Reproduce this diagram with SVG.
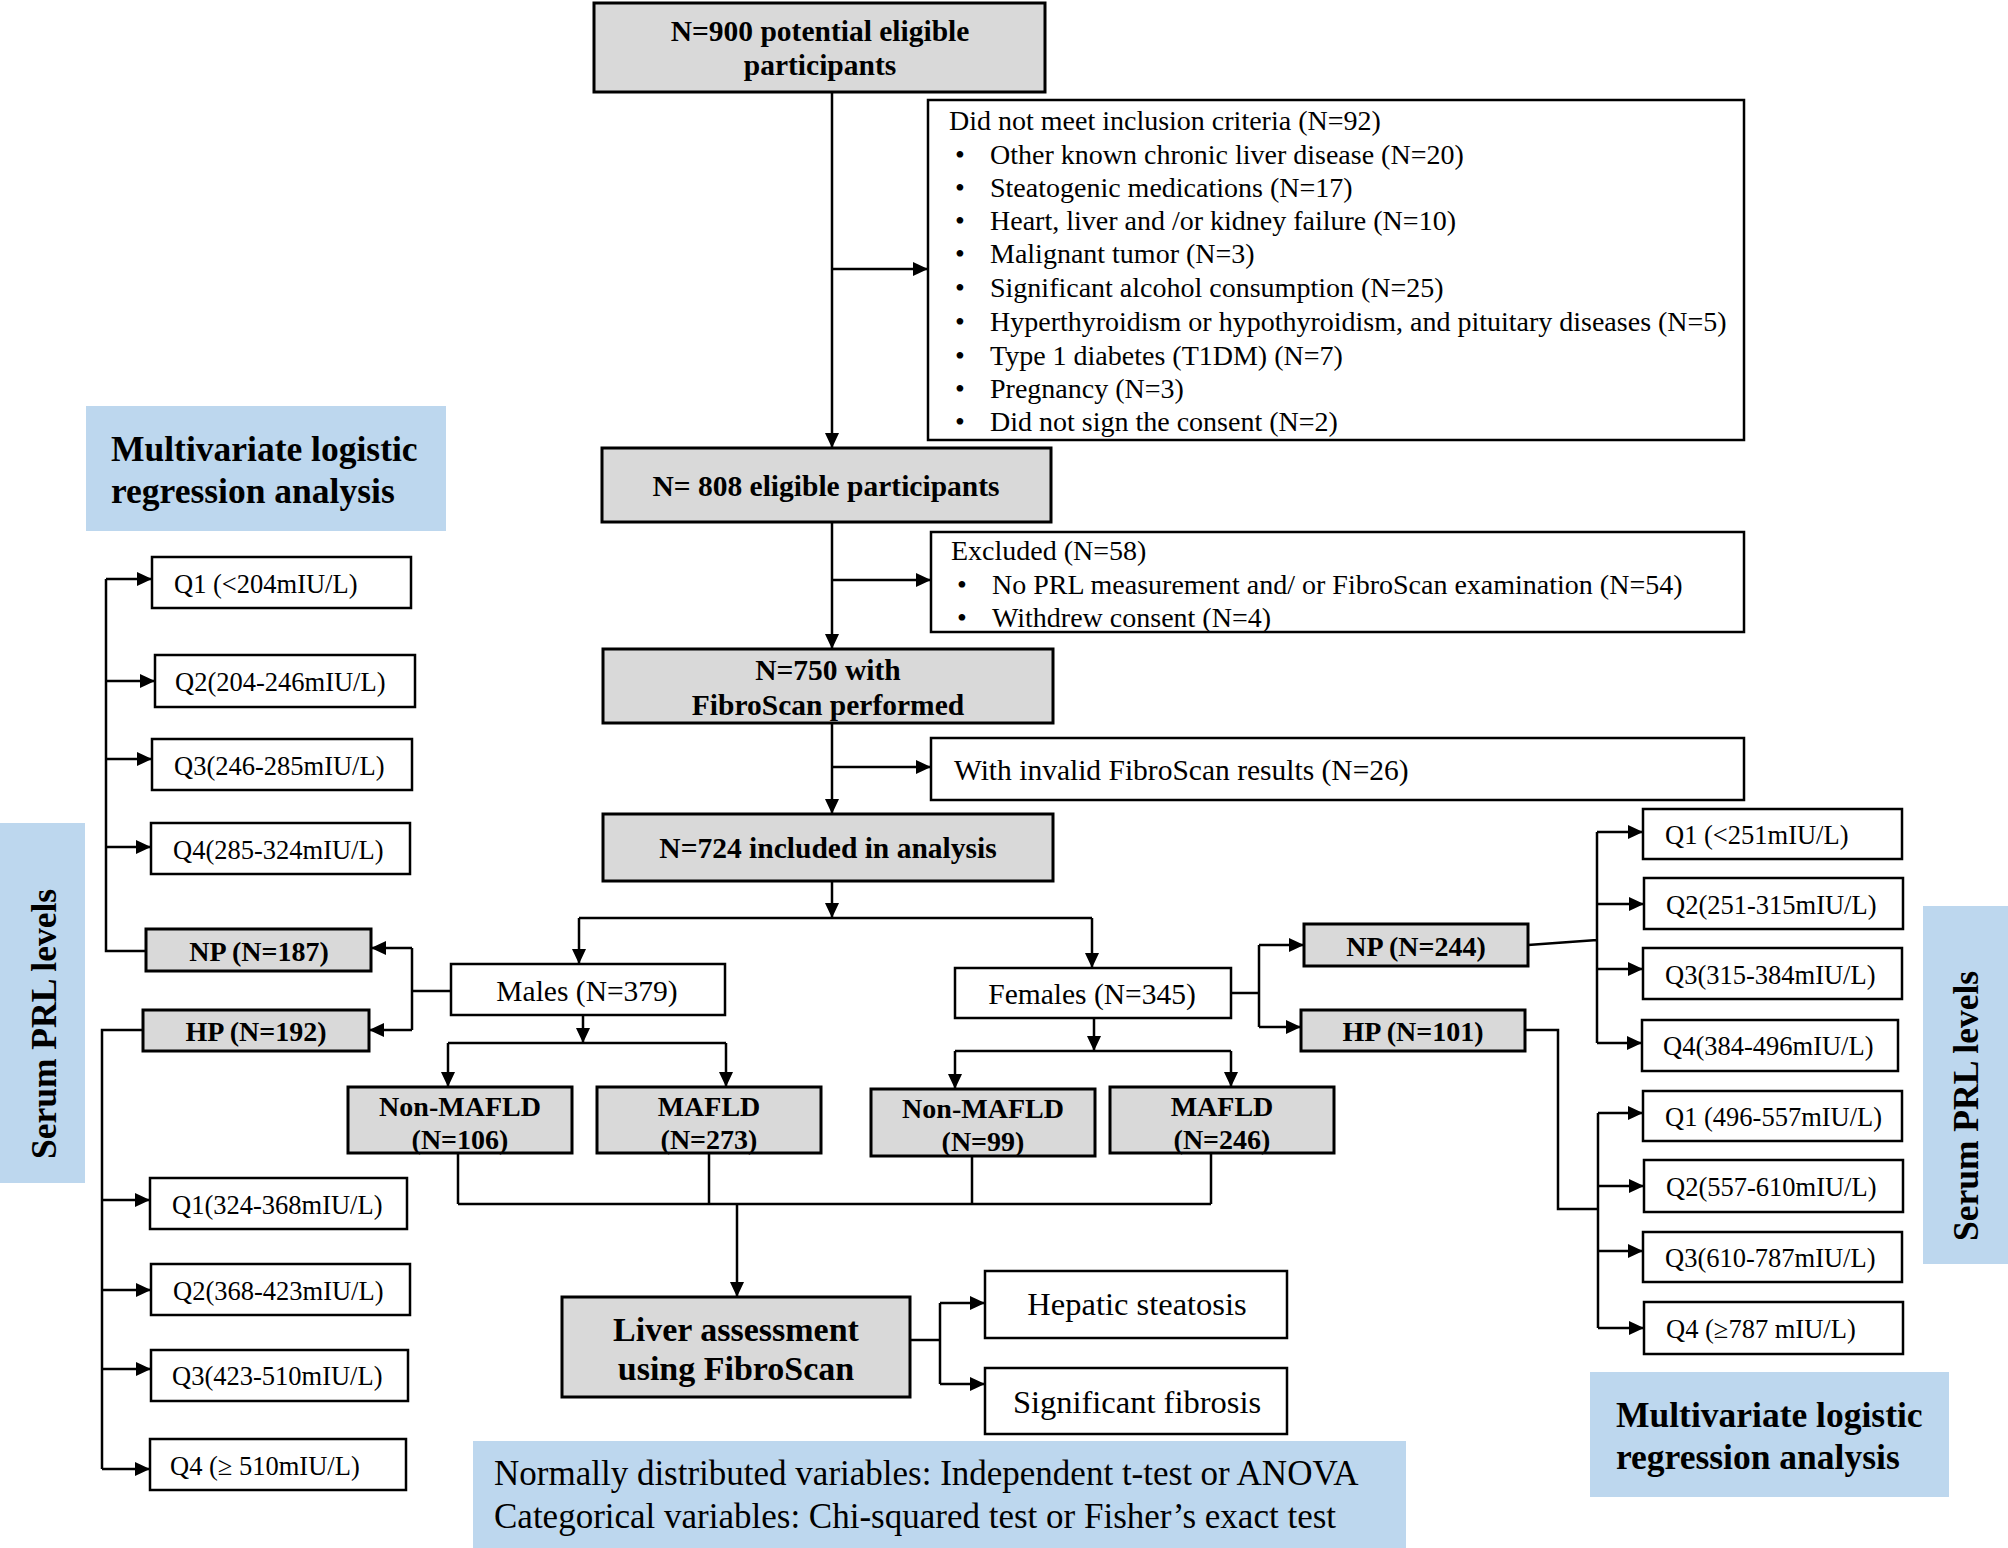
<svg xmlns="http://www.w3.org/2000/svg" width="2008" height="1548" viewBox="0 0 2008 1548">
<style>
.bx{fill:#ffffff;stroke:#000;stroke-width:2.5}
.gb{fill:#d9d9d9;stroke:#000;stroke-width:3}
.blue{fill:#bdd7ee;stroke:none}
.t{font-family:"Liberation Serif","Times New Roman",serif;fill:#000}
.r28{font-size:28px}
.r29{font-size:29.5px}
.r26{font-size:26.5px}
.r32{font-size:32.5px}
.r35{font-size:35px}
.b28{font-size:28px;font-weight:bold}
.b29{font-size:29.5px;font-weight:bold}
.b34{font-size:34px;font-weight:bold}
.b35{font-size:35.5px;font-weight:bold}
.c{text-anchor:middle;dominant-baseline:central}
.l{dominant-baseline:central}
.ln{fill:none;stroke:#000;stroke-width:2.5}
.ar{fill:none;stroke:#000;stroke-width:2.5;marker-end:url(#ah)}
</style>
<defs>
<marker id="ah" markerUnits="userSpaceOnUse" markerWidth="16" markerHeight="14" refX="15" refY="7" orient="auto">
<path d="M0,0 L15,7 L0,14 z" fill="#000"/>
</marker>
</defs>
<rect width="2008" height="1548" fill="#ffffff"/>

<g id="connectors">
<path class="ar" d="M832,92 V448"/>
<path class="ar" d="M832,269 H928"/>
<path class="ar" d="M832,522 V649"/>
<path class="ar" d="M832,580 H931"/>
<path class="ar" d="M832,723 V814"/>
<path class="ar" d="M832,767 H931"/>
<path class="ar" d="M832,881 V918"/>
<path class="ln" d="M579,918 H1092"/>
<path class="ar" d="M579,918 V964"/>
<path class="ar" d="M1092,918 V968"/>
<path class="ar" d="M583,1015 V1043"/>
<path class="ln" d="M448,1043 H726"/>
<path class="ar" d="M448,1043 V1087"/>
<path class="ar" d="M726,1043 V1087"/>
<path class="ar" d="M1094,1018 V1051"/>
<path class="ln" d="M955,1051 H1231"/>
<path class="ar" d="M955,1051 V1089"/>
<path class="ar" d="M1231,1051 V1087"/>
<path class="ln" d="M458,1153 V1204 M709,1153 V1204 M972,1156 V1204 M1211,1153 V1204 M458,1204 H1211"/>
<path class="ar" d="M737,1204 V1297"/>
<path class="ln" d="M910,1340 H940 M940,1303 V1384"/>
<path class="ar" d="M940,1303 H985"/>
<path class="ar" d="M940,1384 H985"/>
<path class="ln" d="M451,991 H412 M412,948 V1030"/>
<path class="ar" d="M412,948 H371"/>
<path class="ar" d="M412,1030 H369"/>
<path class="ln" d="M146,951 H106 V579"/>
<path class="ar" d="M106,579 H152"/>
<path class="ar" d="M106,681 H155"/>
<path class="ar" d="M106,759 H152"/>
<path class="ar" d="M106,847 H151"/>
<path class="ln" d="M143,1030 H102 V1469"/>
<path class="ar" d="M102,1200 H150"/>
<path class="ar" d="M102,1290 H151"/>
<path class="ar" d="M102,1369 H151"/>
<path class="ar" d="M102,1469 H150"/>
<path class="ln" d="M1231,993 H1259 M1259,945 V1027"/>
<path class="ar" d="M1259,945 H1304"/>
<path class="ar" d="M1259,1027 H1301"/>
<path class="ln" d="M1528,945 L1597,940 M1597,832 V1043"/>
<path class="ar" d="M1597,832 H1643"/>
<path class="ar" d="M1597,904 H1644"/>
<path class="ar" d="M1597,969 H1643"/>
<path class="ar" d="M1597,1043 H1642"/>
<path class="ln" d="M1525,1030 H1558 V1209 H1598 M1598,1113 V1328"/>
<path class="ar" d="M1598,1113 H1643"/>
<path class="ar" d="M1598,1186 H1644"/>
<path class="ar" d="M1598,1251 H1643"/>
<path class="ar" d="M1598,1328 H1644"/>
</g>

<g id="n900">
<rect class="gb" x="594" y="3" width="451" height="89"/>
<text class="t b29 c" x="820" y="31">N=900 potential eligible</text>
<text class="t b29 c" x="820" y="65">participants</text>
</g>

<g id="inclusion">
<rect class="bx" x="928" y="100" width="816" height="340"/>
<text class="t r28 l" x="949" y="120">Did not meet inclusion criteria (N=92)</text>
<text class="t r28 l" x="955" y="154">•</text><text class="t r28 l" x="990" y="154">Other known chronic liver disease (N=20)</text>
<text class="t r28 l" x="955" y="187">•</text><text class="t r28 l" x="990" y="187">Steatogenic medications (N=17)</text>
<text class="t r28 l" x="955" y="220">•</text><text class="t r28 l" x="990" y="220">Heart, liver and /or kidney failure (N=10)</text>
<text class="t r28 l" x="955" y="253">•</text><text class="t r28 l" x="990" y="253">Malignant tumor (N=3)</text>
<text class="t r28 l" x="955" y="287">•</text><text class="t r28 l" x="990" y="287">Significant alcohol consumption (N=25)</text>
<text class="t r28 l" x="955" y="321">•</text><text class="t r28 l" x="990" y="321">Hyperthyroidism or hypothyroidism, and pituitary diseases (N=5)</text>
<text class="t r28 l" x="955" y="355">•</text><text class="t r28 l" x="990" y="355">Type 1 diabetes (T1DM) (N=7)</text>
<text class="t r28 l" x="955" y="388">•</text><text class="t r28 l" x="990" y="388">Pregnancy (N=3)</text>
<text class="t r28 l" x="955" y="421">•</text><text class="t r28 l" x="990" y="421">Did not sign the consent (N=2)</text>
</g>

<g id="n808">
<rect class="gb" x="602" y="448" width="449" height="74"/>
<text class="t b29 c" x="826" y="486">N= 808 eligible participants</text>
</g>

<g id="excluded">
<rect class="bx" x="931" y="532" width="813" height="100"/>
<text class="t r28 l" x="951" y="550">Excluded (N=58)</text>
<text class="t r28 l" x="957" y="584">•</text><text class="t r28 l" x="992" y="584">No PRL measurement and/ or FibroScan examination (N=54)</text>
<text class="t r28 l" x="957" y="617">•</text><text class="t r28 l" x="992" y="617">Withdrew consent (N=4)</text>
</g>

<g id="n750">
<rect class="gb" x="603" y="649" width="450" height="74"/>
<text class="t b29 c" x="828" y="670">N=750 with</text>
<text class="t b29 c" x="828" y="705">FibroScan performed</text>
</g>

<g id="invalid">
<rect class="bx" x="931" y="738" width="813" height="62"/>
<text class="t r29 l" x="954" y="770">With invalid FibroScan results (N=26)</text>
</g>

<g id="n724">
<rect class="gb" x="603" y="814" width="450" height="67"/>
<text class="t b29 c" x="828" y="848">N=724 included in analysis</text>
</g>

<g id="males">
<rect class="bx" x="451" y="964" width="274" height="51"/>
<text class="t r29 c" x="587" y="991">Males (N=379)</text>
</g>

<g id="females">
<rect class="bx" x="955" y="968" width="276" height="50"/>
<text class="t r29 c" x="1092" y="994">Females (N=345)</text>
</g>

<g id="m-nonmafld">
<rect class="gb" x="348" y="1087" width="224" height="66"/>
<text class="t b28 c" x="460" y="1106">Non-MAFLD</text>
<text class="t b28 c" x="460" y="1139">(N=106)</text>
</g>
<g id="m-mafld">
<rect class="gb" x="597" y="1087" width="224" height="66"/>
<text class="t b28 c" x="709" y="1106">MAFLD</text>
<text class="t b28 c" x="709" y="1139">(N=273)</text>
</g>
<g id="f-nonmafld">
<rect class="gb" x="871" y="1089" width="224" height="67"/>
<text class="t b28 c" x="983" y="1108">Non-MAFLD</text>
<text class="t b28 c" x="983" y="1141">(N=99)</text>
</g>
<g id="f-mafld">
<rect class="gb" x="1110" y="1087" width="224" height="66"/>
<text class="t b28 c" x="1222" y="1106">MAFLD</text>
<text class="t b28 c" x="1222" y="1139">(N=246)</text>
</g>

<g id="liver">
<rect class="gb" x="562" y="1297" width="348" height="100"/>
<text class="t b34 c" x="736" y="1329">Liver assessment</text>
<text class="t b34 c" x="736" y="1368">using FibroScan</text>
</g>
<g id="steatosis">
<rect class="bx" x="985" y="1271" width="302" height="67"/>
<text class="t r32 c" x="1137" y="1304">Hepatic steatosis</text>
</g>
<g id="fibrosis">
<rect class="bx" x="985" y="1368" width="302" height="66"/>
<text class="t r32 c" x="1137" y="1402">Significant fibrosis</text>
</g>

<g id="stats">
<rect class="blue" x="473" y="1441" width="933" height="107"/>
<text class="t r35 l" x="494" y="1473">Normally distributed variables: Independent t-test or ANOVA</text>
<text class="t r35 l" x="494" y="1516">Categorical variables: Chi-squared test or Fisher’s exact test</text>
</g>

<g id="mlr-left">
<rect class="blue" x="86" y="406" width="360" height="125"/>
<text class="t b35 l" x="111" y="449">Multivariate logistic</text>
<text class="t b35 l" x="111" y="491">regression analysis</text>
</g>

<g id="prl-left">
<rect class="blue" x="0" y="823" width="85" height="360"/>
<text class="t b35 c" transform="translate(44,1024) rotate(-90)">Serum PRL levels</text>
</g>

<g id="lq1"><rect class="bx" x="152" y="557" width="259" height="51"/><text class="t r26 l" x="174" y="584">Q1 (&lt;204mIU/L)</text></g>
<g id="lq2"><rect class="bx" x="155" y="655" width="260" height="52"/><text class="t r26 l" x="175" y="682">Q2(204-246mIU/L)</text></g>
<g id="lq3"><rect class="bx" x="152" y="739" width="260" height="51"/><text class="t r26 l" x="174" y="766">Q3(246-285mIU/L)</text></g>
<g id="lq4"><rect class="bx" x="151" y="823" width="259" height="51"/><text class="t r26 l" x="173" y="850">Q4(285-324mIU/L)</text></g>

<g id="np187">
<rect class="gb" x="146" y="929" width="225" height="42"/>
<text class="t b28 c" x="259" y="951">NP (N=187)</text>
</g>
<g id="hp192">
<rect class="gb" x="143" y="1010" width="226" height="41"/>
<text class="t b28 c" x="256" y="1031">HP (N=192)</text>
</g>

<g id="lq5"><rect class="bx" x="150" y="1178" width="257" height="51"/><text class="t r26 l" x="172" y="1205">Q1(324-368mIU/L)</text></g>
<g id="lq6"><rect class="bx" x="151" y="1264" width="259" height="51"/><text class="t r26 l" x="173" y="1291">Q2(368-423mIU/L)</text></g>
<g id="lq7"><rect class="bx" x="151" y="1350" width="257" height="51"/><text class="t r26 l" x="172" y="1376">Q3(423-510mIU/L)</text></g>
<g id="lq8"><rect class="bx" x="150" y="1439" width="256" height="51"/><text class="t r26 l" x="170" y="1466">Q4 (≥ 510mIU/L)</text></g>

<g id="np244">
<rect class="gb" x="1304" y="924" width="224" height="42"/>
<text class="t b28 c" x="1416" y="946">NP (N=244)</text>
</g>
<g id="hp101">
<rect class="gb" x="1301" y="1010" width="224" height="41"/>
<text class="t b28 c" x="1413" y="1031">HP (N=101)</text>
</g>

<g id="rq1"><rect class="bx" x="1643" y="809" width="259" height="50"/><text class="t r26 l" x="1665" y="835">Q1 (&lt;251mIU/L)</text></g>
<g id="rq2"><rect class="bx" x="1644" y="878" width="259" height="51"/><text class="t r26 l" x="1666" y="905">Q2(251-315mIU/L)</text></g>
<g id="rq3"><rect class="bx" x="1643" y="948" width="259" height="51"/><text class="t r26 l" x="1665" y="975">Q3(315-384mIU/L)</text></g>
<g id="rq4"><rect class="bx" x="1642" y="1020" width="256" height="51"/><text class="t r26 l" x="1663" y="1046">Q4(384-496mIU/L)</text></g>
<g id="rq5"><rect class="bx" x="1643" y="1091" width="259" height="50"/><text class="t r26 l" x="1665" y="1117">Q1 (496-557mIU/L)</text></g>
<g id="rq6"><rect class="bx" x="1644" y="1160" width="259" height="52"/><text class="t r26 l" x="1666" y="1187">Q2(557-610mIU/L)</text></g>
<g id="rq7"><rect class="bx" x="1643" y="1232" width="259" height="50"/><text class="t r26 l" x="1665" y="1258">Q3(610-787mIU/L)</text></g>
<g id="rq8"><rect class="bx" x="1644" y="1302" width="259" height="52"/><text class="t r26 l" x="1666" y="1329">Q4 (≥787 mIU/L)</text></g>

<g id="prl-right">
<rect class="blue" x="1923" y="906" width="85" height="358"/>
<text class="t b35 c" transform="translate(1966,1106) rotate(-90)">Serum PRL levels</text>
</g>

<g id="mlr-right">
<rect class="blue" x="1590" y="1372" width="359" height="125"/>
<text class="t b35 l" x="1616" y="1415">Multivariate logistic</text>
<text class="t b35 l" x="1616" y="1457">regression analysis</text>
</g>
</svg>
